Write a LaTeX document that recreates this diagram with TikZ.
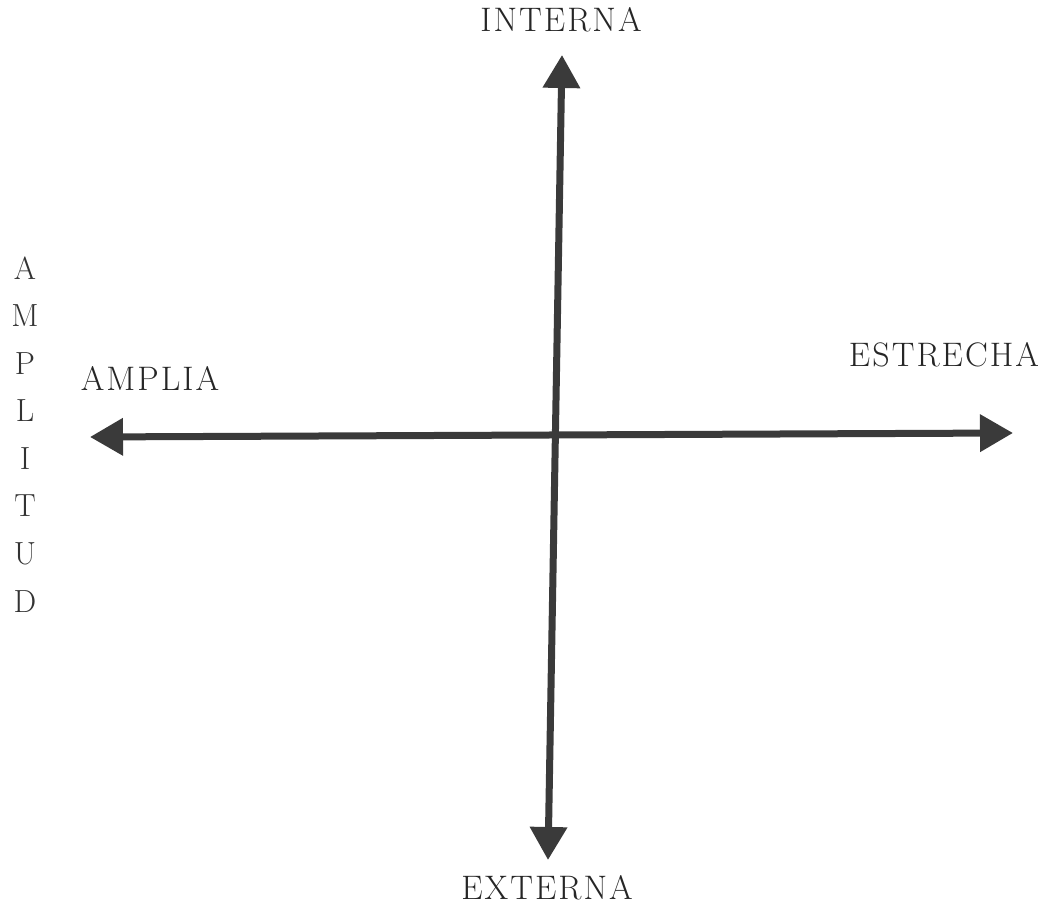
\documentclass[tikz,border=0pt]{standalone}
\usepackage{fontspec}
\setmainfont{Latin Modern Roman}[LetterSpace=6]
\usetikzlibrary{arrows.meta}
\definecolor{axisgray}{HTML}{3A3A3A}
\tikzset{
  axis/.style={draw=axisgray, line width=7pt, {Triangle[length=33pt,width=36pt]}-{Triangle[length=33pt,width=36pt]}},
  lbl/.style={font=\fontsize{34}{36}\selectfont, inner sep=0pt, text=black!85},
  vlt/.style={font=\fontsize{32}{34}\selectfont, inner sep=0pt, text=black!80}
}
\begin{document}
\begin{tikzpicture}[x=1pt,y=1pt]
\useasboundingbox (0,0) rectangle (1047,912);
\coordinate (top) at (562,857);
\coordinate (bot) at (548,52);
\coordinate (lft) at (90,475);
\coordinate (rgt) at (1013,479);
\draw[axis] (bot) -- (top);
\draw[axis] (lft) -- (rgt);
\node[lbl] (interna) at (561,892) {INTERNA};
\node[lbl] (externa) at (547,24) {EXTERNA};
\node[lbl] (amplia) at (150,534) {AMPLIA};
\node[lbl] (estrecha) at (944,557) {ESTRECHA};
\foreach \l [count=\i] in {A,M,P,L,I,T,U,D}
  \node[vlt] (v\i) at (25,{644-(\i-1)*47.6}) {\l};
\end{tikzpicture}
\end{document}
